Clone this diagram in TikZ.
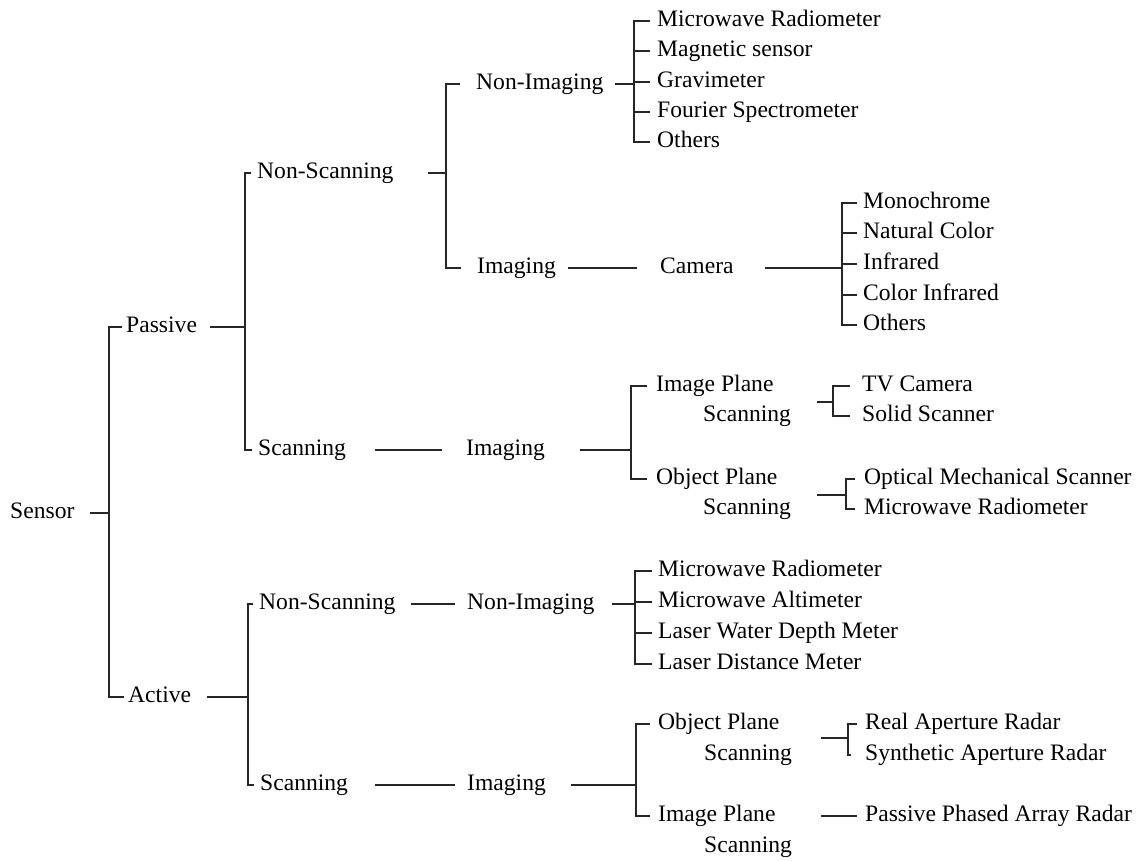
\documentclass[tikz,border=0pt]{standalone}
\usepackage{fontspec}
\setmainfont{Liberation Serif}
\usetikzlibrary{positioning}

\begin{document}
\begin{tikzpicture}[%
    x=1pt, y=-1pt,
    lbl/.style={
        anchor=west,
        inner sep=0pt,
        text height=16pt,
        text depth=4.7pt,
        font=\fontsize{23.6}{30}\selectfont,
        },
    link/.style={
        line width=1.1pt,
        black!85,
        },
]

\path[use as bounding box, fill=white] (0,0) rectangle (1141,860);

% root
\node[lbl] (sensor) at (10,513) {Sensor};
\node[lbl] (passive) at (126,327) {Passive};
\node[lbl] (active) at (128,697) {Active};
\coordinate (sensorbus) at (109,513);
\draw[link] ([xshift=15]sensor.east) -- (sensorbus);
\draw[link] ([xshift=-4]passive.west) -| (sensorbus |- active.west) -- ([xshift=-4]active.west);

% passive
\node[lbl] (pns) at (257,173) {Non-Scanning};
\node[lbl] (psc) at (258,450) {Scanning};
\coordinate (passbus) at (245,327);
\draw[link] ([xshift=13]passive.east) -- (passbus);
\draw[link] ([xshift=-6]pns.west) -| (passbus |- psc.west) -- ([xshift=-6]psc.west);

% passive, non-scanning
\node[lbl] (pni) at (476,84) {Non-Imaging};
\node[lbl] (pim) at (477,268) {Imaging};
\coordinate (pnsbus) at (446,173);
\draw[link] ([xshift=34]pns.east) -- (pnsbus);
\draw[link] ([xshift=-16]pni.west) -| (pnsbus |- pim.west) -- ([xshift=-16]pim.west);

\foreach \t/\y [count=\i] in {Microwave Radiometer/21, Magnetic sensor/51,
        Gravimeter/82, Fourier Spectrometer/112, Others/142}
    \node[lbl] (pni\i) at (657,\y) {\t};
\coordinate (pnibus) at (634,84);
\draw[link] ([xshift=11]pni.east) -- (pnibus);
\draw[link] ([xshift=-7]pni1.west) -| (pnibus |- pni5.west) -- ([xshift=-7]pni5.west);
\foreach \i in {2,3,4}
    \draw[link] (pnibus |- pni\i.west) -- ([xshift=-7]pni\i.west);

\node[lbl] (cam) at (660,268) {Camera};
\draw[link] ([xshift=12]pim.east) -- ([xshift=-23]cam.west);
\foreach \t/\y [count=\i] in {Monochrome/203, Natural Color/233,
        Infrared/264, Color Infrared/295, Others/325}
    \node[lbl] (cam\i) at (863,\y) {\t};
\coordinate (cambus) at (842,268);
\draw[link] ([xshift=31]cam.east) -- (cambus);
\draw[link] ([xshift=-6]cam1.west) -| (cambus |- cam5.west) -- ([xshift=-6]cam5.west);
\foreach \i in {2,3,4}
    \draw[link] (cambus |- cam\i.west) -- ([xshift=-6]cam\i.west);

% passive, scanning
\node[lbl] (psi) at (466,450) {Imaging};
\draw[link] ([xshift=29]psc.east) -- ([xshift=-24]psi.west);
\node[lbl] (pipl) at (656,386) {Image Plane};
\node[lbl] (pipl2) at (703,416) {Scanning};
\node[lbl] (popl) at (656,479) {Object Plane};
\node[lbl] (popl2) at (703,509) {Scanning};
\coordinate (psibus) at (631,450);
\draw[link] ([xshift=35]psi.east) -- (psibus);
\draw[link] ([xshift=-9]pipl.west) -| (psibus |- popl.west) -- ([xshift=-9]popl.west);

\node[lbl] (tvc) at (862,386) {TV Camera};
\node[lbl] (solid) at (862,416) {Solid Scanner};
\coordinate (piplbus) at (833,402);
\draw[link] ([xshift=26]pipl2.east |- piplbus) -- (piplbus);
\draw[link] ([xshift=-12]tvc.west) -| (piplbus |- solid.west) -- ([xshift=-12]solid.west);

\node[lbl] (opt) at (864,479) {Optical Mechanical Scanner};
\node[lbl] (pmr) at (864,509) {Microwave Radiometer};
\coordinate (poplbus) at (846,495);
\draw[link] ([xshift=26]popl2.east |- poplbus) -- (poplbus);
\draw[link] ([xshift=-9]opt.west) -| (poplbus |- pmr.west) -- ([xshift=-9]pmr.west);

% active
\node[lbl] (ans) at (259,604) {Non-Scanning};
\node[lbl] (asc) at (260,785) {Scanning};
\coordinate (actbus) at (248,697);
\draw[link] ([xshift=16]active.east) -- (actbus);
\draw[link] ([xshift=-6]ans.west) -| (actbus |- asc.west) -- ([xshift=-6]asc.west);

% active, non-scanning
\node[lbl] (ani) at (467,604) {Non-Imaging};
\draw[link] ([xshift=15]ans.east) -- ([xshift=-12]ani.west);
\foreach \t/\y [count=\i] in {Microwave Radiometer/571, Microwave Altimeter/602,
        Laser Water Depth Meter/633, Laser Distance Meter/664}
    \node[lbl] (ani\i) at (658,\y) {\t};
\coordinate (anibus) at (635,604);
\draw[link] ([xshift=17]ani.east) -- (anibus);
\draw[link] ([xshift=-6]ani1.west) -| (anibus |- ani4.west) -- ([xshift=-6]ani4.west);
\foreach \i in {2,3}
    \draw[link] (anibus |- ani\i.west) -- ([xshift=-6]ani\i.west);

% active, scanning
\node[lbl] (aim) at (467,785) {Imaging};
\draw[link] ([xshift=27]asc.east) -- ([xshift=-12]aim.west);
\node[lbl] (aopl) at (658,724) {Object Plane};
\node[lbl] (aopl2) at (704,755) {Scanning};
\node[lbl] (aipl) at (658,816) {Image Plane};
\node[lbl] (aipl2) at (704,847) {Scanning};
\coordinate (aimbus) at (636,785);
\draw[link] ([xshift=25]aim.east) -- (aimbus);
\draw[link] ([xshift=-8]aopl.west) -| (aimbus |- aipl.west) -- ([xshift=-8]aipl.west);

\node[lbl] (rar) at (865,724) {Real Aperture Radar};
\node[lbl] (sar) at (865,755) {Synthetic Aperture Radar};
\coordinate (aoplbus) at (848,738);
\draw[link] ([xshift=29]aopl2.east |- aoplbus) -- (aoplbus);
\draw[link] ([xshift=-8]rar.west) -| (aoplbus |- sar.west) -- ([xshift=-14]sar.west);

\node[lbl] (ppar) at (865,816) {Passive Phased Array Radar};
\draw[link] ([xshift=29]aipl2.east |- aipl.west) -- ([xshift=-8]ppar.west);

\end{tikzpicture}
\end{document}
